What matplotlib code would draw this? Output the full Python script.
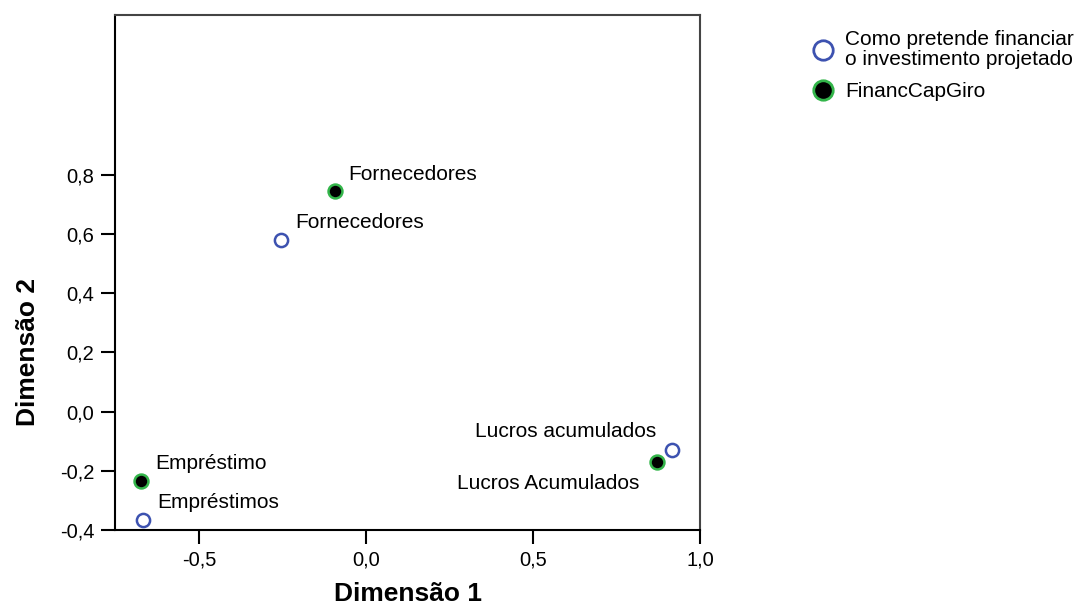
import matplotlib
matplotlib.use("Agg")
import matplotlib.pyplot as plt
from matplotlib.lines import Line2D

plt.rcParams['font.family'] = ['Liberation Sans', 'DejaVu Sans']

# Data
series1_name = "Como pretende financiar\no investimento projetado"
series1_labels = ["Fornecedores", "Empréstimos", "Lucros acumulados"]
series1_x = [-0.255, -0.667, 0.916]
series1_y = [0.581, -0.366, -0.130]

series2_name = "FinancCapGiro"
series2_labels = ["Fornecedores", "Empréstimo", "Lucros Acumulados"]
series2_x = [-0.094, -0.673, 0.871]
series2_y = [0.746, -0.236, -0.170]

xticks = [-0.5, 0.0, 0.5, 1.0]
xticklabels = ["-0,5", "0,0", "0,5", "1,0"]
yticks = [-0.4, -0.2, 0.0, 0.2, 0.4, 0.6, 0.8]
yticklabels = ["-0,4", "-0,2", "0,0", "0,2", "0,4", "0,6", "0,8"]

blue = '#3d52b0'
green = '#33b54a'

W, H = 1081, 607
fig = plt.figure(figsize=(W / 100, H / 100), dpi=100)
ax = fig.add_axes([115 / W, 1 - 530 / H, (700 - 115) / W, (530 - 15) / H])

ax.plot(series1_x, series1_y, 'o', ms=9.5, mfc='white', mec=blue, mew=1.8, ls='none', zorder=3)
ax.plot(series2_x, series2_y, 'o', ms=10, mfc='black', mec=green, mew=1.8, ls='none', zorder=3)

# label placement (offset in pixels, alignment)
off1 = [(14, 12, 'left'), (14, 12, 'left'), (-16, 13, 'right')]
off2 = [(14, 11, 'left'), (14, 12, 'left'), (-18, -27, 'right')]
for lab, x, y, (dx, dy, ha) in zip(series1_labels, series1_x, series1_y, off1):
    ax.annotate(lab, (x, y), xytext=(dx, dy), textcoords='offset pixels',
                ha=ha, va='baseline', fontsize=15, color='black')
for lab, x, y, (dx, dy, ha) in zip(series2_labels, series2_x, series2_y, off2):
    ax.annotate(lab, (x, y), xytext=(dx, dy), textcoords='offset pixels',
                ha=ha, va='baseline', fontsize=15, color='black')

ax.set_xlim(-0.752, 1.0)
ax.set_ylim(-0.4, 1.34)
ax.set_xticks(xticks)
ax.set_xticklabels(xticklabels)
ax.set_yticks(yticks)
ax.set_yticklabels(yticklabels)
ax.tick_params(direction='out', length=10, width=1.5, labelsize=14.5, pad=5, color='black')

for side in ['left', 'bottom']:
    ax.spines[side].set_linewidth(1.5)
    ax.spines[side].set_color('black')
for side in ['top', 'right']:
    ax.spines[side].set_linewidth(1.5)
    ax.spines[side].set_color('#444444')

ax.set_xlabel("Dimensão 1", fontsize=19, fontweight='bold', labelpad=9)
ax.set_ylabel("Dimensão 2", fontsize=19, fontweight='bold')
# y label centered on tick range
ax.yaxis.set_label_coords(-0.128, (0.2 - (-0.4)) / (1.34 + 0.4))

handles = [
    Line2D([], [], marker='o', ls='none', ms=14, mfc='white', mec=blue, mew=2),
    Line2D([], [], marker='o', ls='none', ms=14, mfc='black', mec=green, mew=2),
]
leg = fig.legend(handles, [series1_name, series2_name], loc='upper left',
                 bbox_to_anchor=(814 / W, 1 - 30 / H), frameon=False,
                 fontsize=15, handlelength=0.9, handletextpad=0.6,
                 labelspacing=0.65, borderpad=0, borderaxespad=0)
for t in leg.get_texts():
    t.set_linespacing(1.05)

fig.savefig('out.png', dpi=100)
